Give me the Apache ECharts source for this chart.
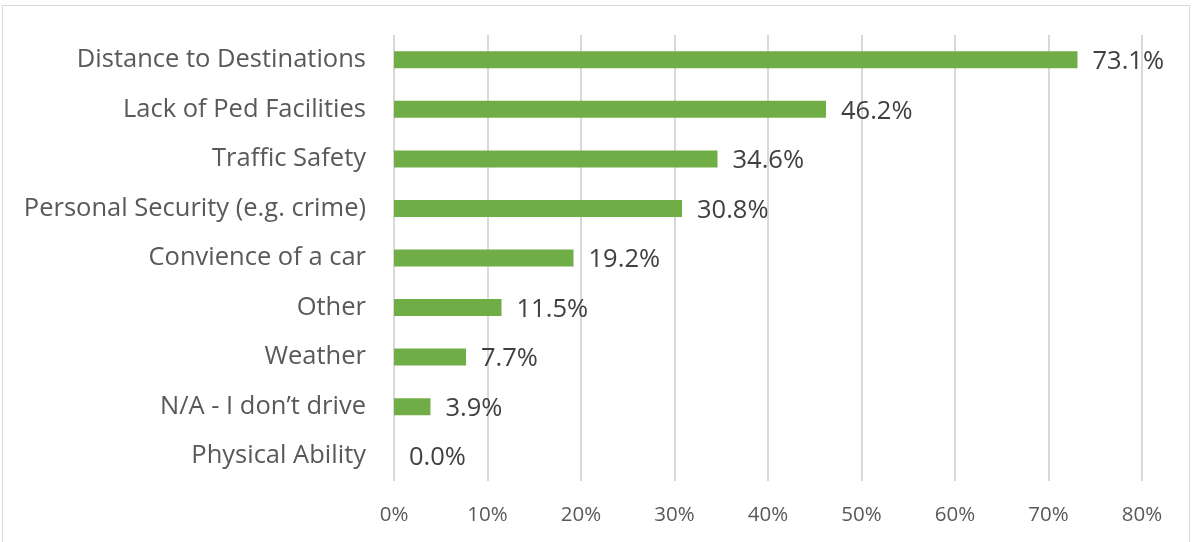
<!DOCTYPE html>
<html>
<head>
<meta charset="utf-8">
<script src="https://cdn.jsdelivr.net/npm/echarts@6/dist/echarts.min.js"></script>
<style>
  html, body { margin: 0; padding: 0; background: #fff; }
  #frame { position: absolute; left: 2px; top: 5px; width: 1188px; height: 540px; border: 1px solid #d9d9d9; box-sizing: border-box; }
  #chart { width: 1192px; height: 542px; }
</style>
</head>
<body>
<div id="frame"></div>
<div id="chart"></div>
<script>
// Reasons for not walking, share of respondents (%), listed top to bottom
const categories = [
  'Distance to Destinations',
  'Lack of Ped Facilities',
  'Traffic Safety',
  'Personal Security (e.g. crime)',
  'Convience of a car',
  'Other',
  'Weather',
  'N/A - I don\u2019t drive',
  'Physical Ability'
];
const shares = [73.1, 46.2, 34.6, 30.8, 19.2, 11.5, 7.7, 3.9, 0.0];
const axisTicks = [0, 10, 20, 30, 40, 50, 60, 70, 80];

const chart = echarts.init(document.getElementById('chart'), null, { renderer: 'canvas' });
chart.setOption({
  animation: false,
  grid: { left: 394, right: 50, top: 35, bottom: 61, containLabel: false },
  xAxis: {
    type: 'value',
    min: axisTicks[0],
    max: axisTicks[axisTicks.length - 1],
    interval: 10,
    axisLine: { show: false },
    axisTick: { show: false },
    splitLine: { show: true, lineStyle: { color: '#d9d9d9', width: 2 } },
    axisLabel: {
      formatter: v => v + '%',
      color: '#595959',
      fontFamily: 'Open Sans',
      fontSize: 20.5,
      margin: 24
    }
  },
  yAxis: {
    type: 'category',
    data: categories,
    inverse: true,
    axisLine: { show: false },
    axisTick: { show: false },
    axisLabel: {
      color: '#595959',
      fontFamily: 'Open Sans',
      fontSize: 25.5,
      margin: 28
    }
  },
  series: [{
    type: 'bar',
    data: shares,
    barWidth: 17,
    itemStyle: { color: '#70ad47' },
    label: {
      show: true,
      position: 'right',
      distance: 15,
      offset: [0, 2],
      formatter: p => p.value.toFixed(1) + '%',
      color: '#404040',
      fontFamily: 'Open Sans',
      fontSize: 25.5
    }
  }]
});
</script>
</body>
</html>
